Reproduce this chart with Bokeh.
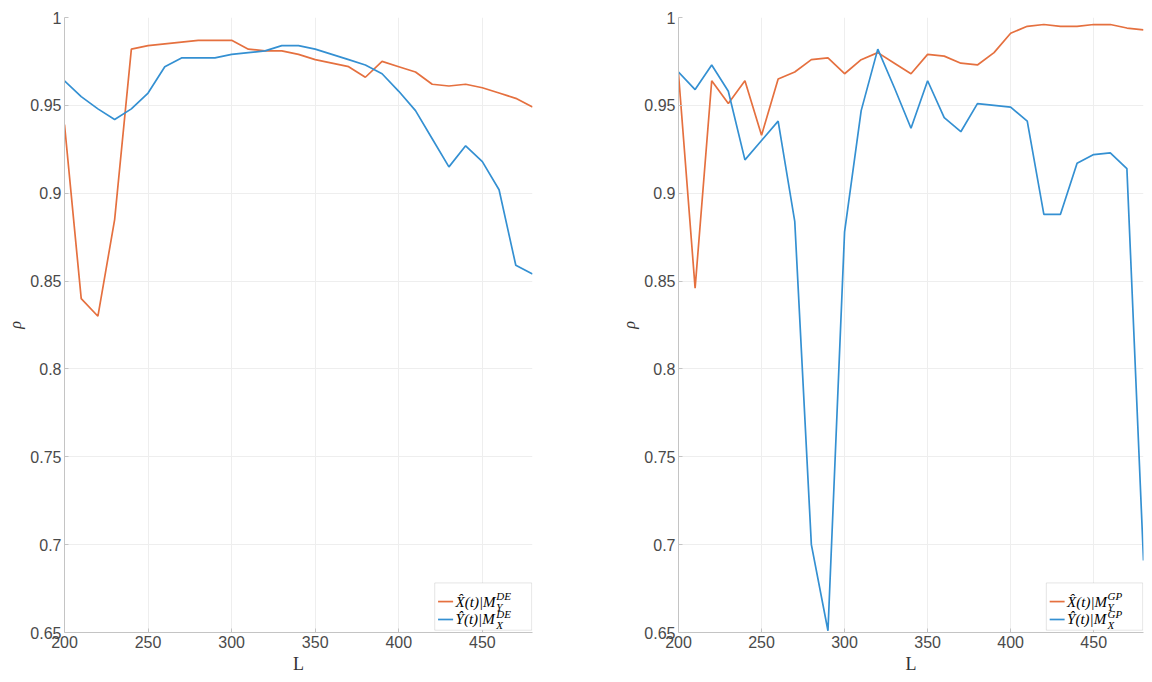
from bokeh.plotting import figure
from bokeh.layouts import row
from bokeh.models import Range1d, FixedTicker, BoxAnnotation, Label
from bokeh.embed import file_html
from bokeh.resources import INLINE

L = [200, 210, 220, 230, 240, 250, 260, 270, 280, 290, 300, 310, 320, 330, 340,
     350, 360, 370, 380, 390, 400, 410, 420, 430, 440, 450, 460, 470, 480]

de_x = [0.939, 0.840, 0.830, 0.885, 0.982, 0.984, 0.985, 0.986, 0.987, 0.987, 0.987,
        0.982, 0.981, 0.981, 0.979, 0.976, 0.974, 0.972, 0.966, 0.975, 0.972, 0.969,
        0.962, 0.961, 0.962, 0.960, 0.957, 0.954, 0.949]
de_y = [0.964, 0.955, 0.948, 0.942, 0.948, 0.957, 0.972, 0.977, 0.977, 0.977, 0.979,
        0.980, 0.981, 0.984, 0.984, 0.982, 0.979, 0.976, 0.973, 0.968, 0.958, 0.947,
        0.931, 0.915, 0.927, 0.918, 0.902, 0.859, 0.854]
gp_x = [0.968, 0.846, 0.964, 0.951, 0.964, 0.933, 0.965, 0.969, 0.976, 0.977, 0.968,
        0.976, 0.980, 0.974, 0.968, 0.979, 0.978, 0.974, 0.973, 0.980, 0.991, 0.995,
        0.996, 0.995, 0.995, 0.996, 0.996, 0.994, 0.993]
gp_y = [0.969, 0.959, 0.973, 0.958, 0.919, 0.930, 0.941, 0.884, 0.700, 0.651, 0.878,
        0.947, 0.982, 0.960, 0.937, 0.964, 0.943, 0.935, 0.951, 0.950, 0.949, 0.941,
        0.888, 0.888, 0.917, 0.922, 0.923, 0.914, 0.691]

x_ticks = [200, 250, 300, 350, 400, 450]
y_ticks = [0.65, 0.7, 0.75, 0.8, 0.85, 0.9, 0.95, 1.0]
y_tick_labels = ["0.65", "0.7", "0.75", "0.8", "0.85", "0.9", "0.95", "1"]

ORANGE = "#E5703F"
BLUE = "#3490D2"
TICK_FONT = "Liberation Sans"
SERIF = "Liberation Serif"

# legend layout (data units of each panel)
LEG = dict(left=421.5, right=479.5, bottom=0.6513, top=0.6782,
           seg0=423.5, seg1=432.5, text_x=434.0, script_x=458.3,
           row1=0.6676, row2=0.6574, dscript=0.0029)


def make_fig(xs, ys, sup, sub_x, sub_y, width, bl, br):
    p = figure(width=width, height=676, output_backend="svg", toolbar_location=None,
               x_range=Range1d(200, 480), y_range=Range1d(0.65, 1.0),
               min_border_left=bl, min_border_right=br, min_border_top=17,
               min_border_bottom=44)
    p.outline_line_color = None
    p.background_fill_color = "white"
    p.border_fill_color = "white"
    p.xaxis.ticker = FixedTicker(ticks=x_ticks)
    p.yaxis.ticker = FixedTicker(ticks=y_ticks)
    p.yaxis.major_label_overrides = {t: s for t, s in zip(y_ticks, y_tick_labels)}
    for ax in (p.xaxis[0], p.yaxis[0]):
        ax.axis_line_color = "#c4c4c4"
        ax.major_tick_line_color = "#c4c4c4"
        ax.major_tick_in = 4
        ax.major_tick_out = 0
        ax.minor_tick_line_color = None
        ax.major_label_text_font = TICK_FONT
        ax.major_label_text_font_size = "16px"
        ax.major_label_text_color = "#4a4a4a"
        ax.major_label_standoff = 3
        ax.axis_label_text_font = SERIF
        ax.axis_label_text_color = "#333333"
        ax.axis_label_standoff = 3
    p.xaxis.axis_label = "L"
    p.xaxis.axis_label_text_font_size = "18px"
    p.xaxis.axis_label_text_font_style = "normal"
    p.yaxis.axis_label = "ρ"
    p.yaxis.axis_label_text_font_size = "16px"
    p.yaxis.axis_label_text_font_style = "italic"
    p.grid.grid_line_color = "#eeeeee"
    p.grid.grid_line_width = 1

    p.line(L, xs, line_color=ORANGE, line_width=1.7)
    p.line(L, ys, line_color=BLUE, line_width=1.7)

    # legend (MATLAB style, with math sub/superscripts)
    p.add_layout(BoxAnnotation(left=LEG["left"], right=LEG["right"],
                               bottom=LEG["bottom"], top=LEG["top"],
                               fill_color="white", fill_alpha=1.0,
                               line_color="#a8a8a8", line_width=1))
    rows = [(LEG["row1"], ORANGE, "X\u0302(t)|M", sub_x),
            (LEG["row2"], BLUE, "Y\u0302(t)|M", sub_y)]
    for yc, col, main, sub in rows:
        r = p.segment(x0=[LEG["seg0"]], y0=[yc], x1=[LEG["seg1"]], y1=[yc],
                      line_color=col, line_width=1.7)
        r.level = "overlay"
        p.add_layout(Label(x=LEG["text_x"], y=yc, text=main, text_font=SERIF,
                           text_font_style="italic", text_font_size="15px",
                           text_baseline="middle", text_align="left", text_color="#000000"))
        p.add_layout(Label(x=LEG["script_x"], y=yc + LEG["dscript"], text=sup, text_font=SERIF,
                           text_font_style="italic", text_font_size="11px",
                           text_baseline="middle", text_align="left", text_color="#000000"))
        p.add_layout(Label(x=LEG["script_x"], y=yc - LEG["dscript"], text=sub, text_font=SERIF,
                           text_font_style="italic", text_font_size="11px",
                           text_baseline="middle", text_align="left", text_color="#000000"))
    return p


p1 = make_fig(de_x, de_y, "DE", "Y", "X", 600, 64, 68)
p2 = make_fig(gp_x, gp_y, "GP", "Y", "X", 544, 78, 1)
p = row(p1, p2)

open("out.html", "w").write(file_html(p, INLINE))
